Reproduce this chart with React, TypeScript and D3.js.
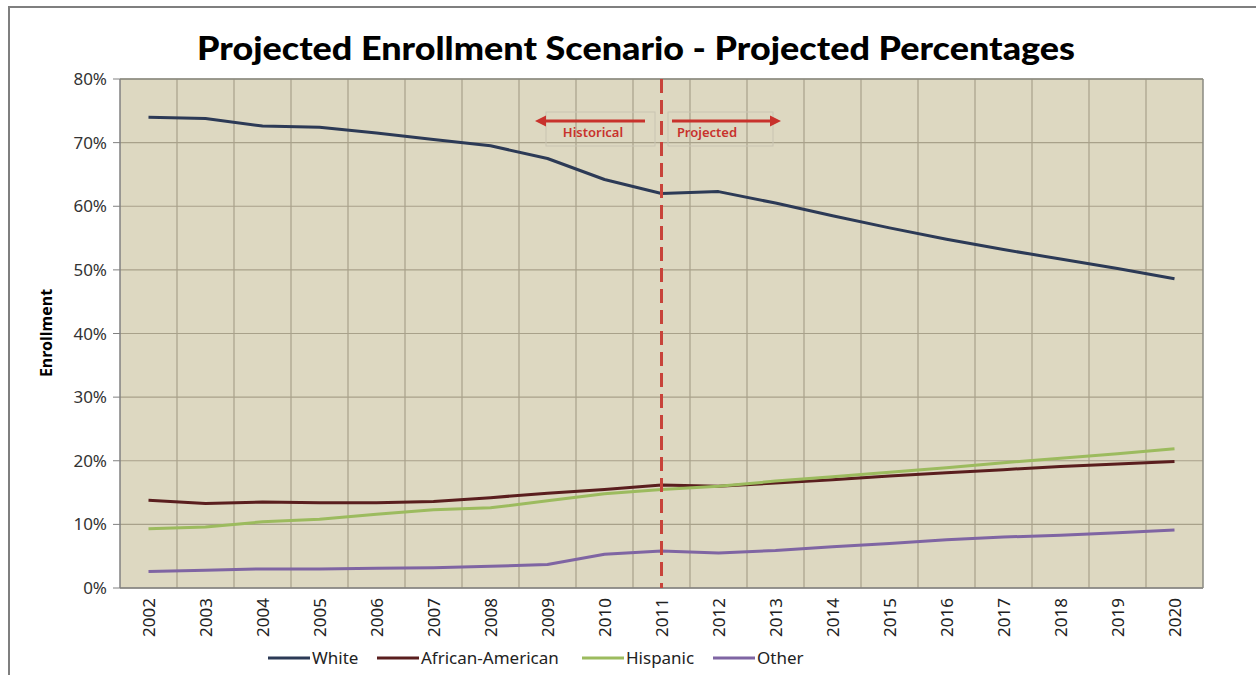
import React from "react";
import * as d3 from "d3";

const years = ["2002","2003","2004","2005","2006","2007","2008","2009","2010","2011","2012","2013","2014","2015","2016","2017","2018","2019","2020"];
const white = [74.0,73.8,72.6,72.4,71.5,70.5,69.5,67.5,64.2,62.0,62.3,60.5,58.5,56.6,54.8,53.2,51.7,50.2,48.6];
const africanAmerican = [13.8,13.3,13.5,13.4,13.4,13.6,14.2,14.9,15.5,16.2,16.0,16.5,17.0,17.6,18.1,18.6,19.1,19.5,19.9];
const hispanic = [9.3,9.6,10.4,10.8,11.6,12.3,12.6,13.7,14.8,15.5,16.0,16.8,17.5,18.2,18.9,19.7,20.4,21.1,21.9];
const other = [2.6,2.8,3.0,3.0,3.1,3.2,3.4,3.7,5.3,5.8,5.5,5.9,6.5,7.0,7.6,8.0,8.3,8.7,9.1];
const yTicks = [0,10,20,30,40,50,60,70,80];
const seriesNames = ["White","African-American","Hispanic","Other"];
const seriesColors = ["#2C3A56","#5A1E1E","#9CBB5E","#7F65A3"];
const dividerYear = "2011";

export default function App() {
  const W = 1256, H = 675;
  const left = 120, right = 1203, top = 79, bottom = 588;
  const x = d3.scaleBand<string>().domain(years).range([left, right]);
  const y = d3.scaleLinear().domain([0, 80]).range([bottom, top]);
  const cx = (yr: string) => (x(yr) as number) + x.bandwidth() / 2;
  const data = [white, africanAmerican, hispanic, other];
  const line = d3.line<number>().x((_, i) => cx(years[i])).y(v => y(v)).curve(d3.curveLinear);
  const font = "'Noto Sans', 'Open Sans', 'DejaVu Sans', sans-serif";
  const dx = cx(dividerYear);
  const red = "#C8322C";
  const legendX = [268, 377, 582, 713];
  const legendY = 658;

  return (
    <svg width={W} height={H} style={{ position: "absolute", left: 0, top: 0, background: "#fff" }}>
      <rect x={9} y={7} width={1300} height={800} fill="#fff" stroke="#7f7f7f" strokeWidth={2} />
      <text x={636} y={60} textAnchor="middle" fontFamily="Lato, 'Open Sans', sans-serif" fontWeight="900" fontSize={32} textLength={878} lengthAdjust="spacingAndGlyphs" fill="#000">
        Projected Enrollment Scenario - Projected Percentages
      </text>
      <rect x={left} y={top} width={right - left} height={bottom - top} fill="#DDD8C1" />
      {yTicks.map(t => (
        <g key={"h" + t}>
          <line x1={left} x2={right} y1={y(t)} y2={y(t)} stroke="#A8A18A" strokeWidth={1.2} />
          <line x1={left - 7} x2={left} y1={y(t)} y2={y(t)} stroke="#808080" strokeWidth={1} />
          <text x={107} y={y(t) + 6} textAnchor="end" fontFamily={font} fontSize={17} fill="#333">{t}%</text>
        </g>
      ))}
      {years.slice(1).map(yr => (
        <line key={"v" + yr} x1={x(yr)} x2={x(yr)} y1={top} y2={bottom} stroke="#A8A18A" strokeWidth={1.2} />
      ))}
      <line x1={left} x2={left} y1={top} y2={bottom} stroke="#808080" strokeWidth={1.5} />
      <line x1={left} x2={right} y1={bottom} y2={bottom} stroke="#808080" strokeWidth={1.5} />
      <line x1={left} x2={right} y1={top} y2={top} stroke="#8a8a80" strokeWidth={1.5} />
      <line x1={right} x2={right} y1={top} y2={bottom} stroke="#8a8a80" strokeWidth={1.5} />
      {/* annotation boxes */}
      <rect x={546} y={112} width={109} height={34} fill="none" stroke="#C9C4B2" strokeWidth={1} />
      <rect x={668} y={112} width={105} height={34} fill="none" stroke="#C9C4B2" strokeWidth={1} />
      <line x1={645} x2={545} y1={121} y2={121} stroke={red} strokeWidth={3} />
      <path d={`M535,121 L546,115.5 L546,126.5 Z`} fill={red} />
      <line x1={672} x2={770} y1={121} y2={121} stroke={red} strokeWidth={3} />
      <path d={`M781,121 L770,115.5 L770,126.5 Z`} fill={red} />
      <text x={593} y={137} textAnchor="middle" fontFamily={font} fontWeight="600" fontSize={13} fill={red}>Historical</text>
      <text x={707} y={137} textAnchor="middle" fontFamily={font} fontWeight="600" fontSize={13} fill={red}>Projected</text>
      {data.map((d, i) => (
        <path key={"s" + i} d={line(d) as string} fill="none" stroke={seriesColors[i]} strokeWidth={3} strokeLinejoin="round" />
      ))}
      <line x1={dx} x2={dx} y1={top} y2={bottom} stroke="#C8433A" strokeWidth={3} strokeDasharray="14 7" />
      {years.map(yr => (
        <text key={"xl" + yr} transform={`translate(${cx(yr) + 6},${598}) rotate(-90)`} textAnchor="end" fontFamily={font} fontSize={17} fill="#222">{yr}</text>
      ))}
      <text transform={`translate(52,333) rotate(-90)`} textAnchor="middle" fontFamily={font} fontWeight="bold" fontSize={16} fill="#000">Enrollment</text>
      {seriesNames.map((n, i) => (
        <g key={"lg" + n}>
          <line x1={legendX[i]} x2={legendX[i] + 42} y1={legendY} y2={legendY} stroke={seriesColors[i]} strokeWidth={3} />
          <text x={legendX[i] + 44} y={legendY + 6} fontFamily={font} fontSize={17} fill="#222">{n}</text>
        </g>
      ))}
    </svg>
  );
}
